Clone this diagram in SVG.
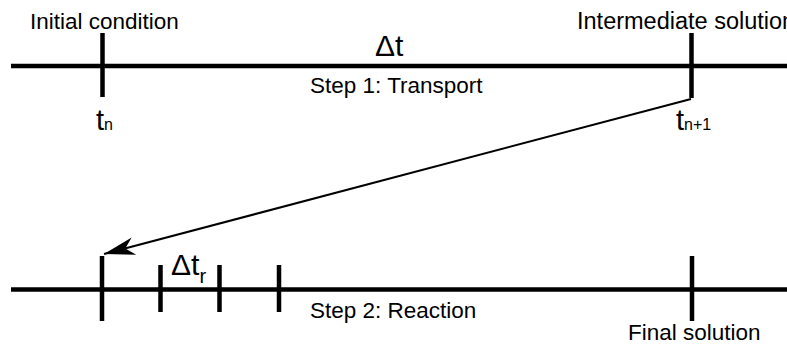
<svg xmlns="http://www.w3.org/2000/svg" width="787" height="345" viewBox="0 0 787 345">
<style>
.axis{stroke:#000;stroke-width:4.5;fill:none}
.tick{stroke:#000;stroke-width:4.5;fill:none}
.lbl{font-family:"Liberation Sans",Arial,sans-serif;font-size:22.5px;fill:#000}
.big{font-family:"Liberation Sans",Arial,sans-serif;font-size:30px;fill:#000}
.sub{font-family:"Liberation Sans",Arial,sans-serif;font-size:15px;fill:#000}
.conn{stroke:#000;stroke-width:2;fill:none}
</style>
<defs>
<marker id="arrow" markerUnits="userSpaceOnUse" markerWidth="40" markerHeight="30" refX="32" refY="10" orient="auto" viewBox="0 0 40 20">
<path d="M32,10 L1,1 L10,10 L1,19 Z" fill="#000"/>
</marker>
</defs>
<rect width="787" height="345" fill="#fff"/>
<g id="timeline-transport">
<line class="axis" x1="11" y1="66" x2="787" y2="66"/>
<line class="tick" x1="102.5" y1="33" x2="102.5" y2="97"/>
<line class="tick" x1="691.5" y1="33" x2="691.5" y2="98"/>
<text class="lbl" x="30" y="29">Initial condition</text>
<text class="lbl" x="577" y="29" style="font-size:23.5px">Intermediate solution</text>
<text class="big" x="375" y="56">Δt</text>
<text class="lbl" x="310" y="93">Step 1: Transport</text>
<text x="96" y="130"><tspan class="big" style="font-size:29px">t</tspan><tspan class="sub" style="font-size:16px">n</tspan></text>
<text x="676" y="130"><tspan class="big" style="font-size:29px">t</tspan><tspan class="sub" style="font-size:16px">n+1</tspan></text>
</g>
<g id="timeline-reaction">
<line class="axis" x1="11" y1="289.5" x2="787" y2="289.5"/>
<line class="tick" x1="102" y1="256" x2="102" y2="321"/>
<line class="tick" x1="160.5" y1="265" x2="160.5" y2="312"/>
<line class="tick" x1="219.5" y1="265" x2="219.5" y2="312"/>
<line class="tick" x1="279" y1="265" x2="279" y2="312"/>
<line class="tick" x1="692" y1="256" x2="692" y2="321"/>
<text x="171" y="275"><tspan class="big">Δt</tspan><tspan class="sub" style="font-size:20px" dy="8">r</tspan></text>
<text class="lbl" x="310" y="318">Step 2: Reaction</text>
<text class="lbl" x="628" y="340">Final solution</text>
</g>
<g id="connectors">
<line class="conn" x1="691" y1="99" x2="104" y2="254" marker-end="url(#arrow)"/>
</g>
</svg>
